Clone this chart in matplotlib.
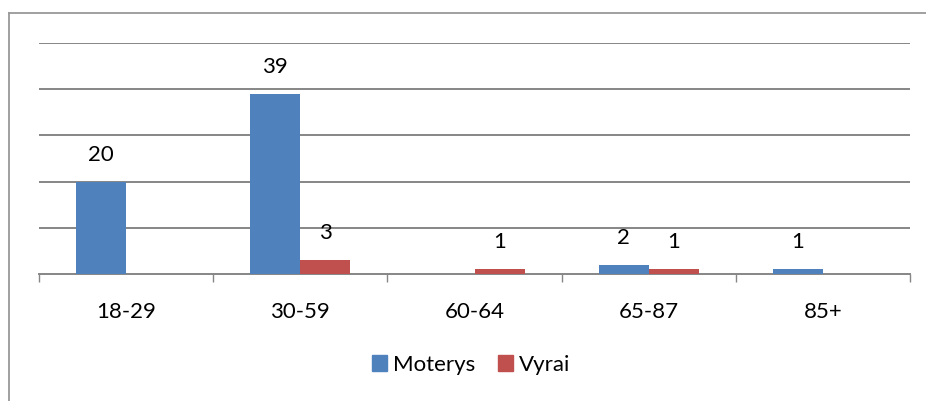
import matplotlib.pyplot as plt
from matplotlib.lines import Line2D
from matplotlib.patches import Patch

plt.rcParams['font.family'] = ['Lato', 'DejaVu Sans']

categories = ["18-29", "30-59", "60-64", "65-87", "85+"]
moterys = [20, 39, 0, 2, 1]
vyrai = [0, 3, 1, 1, 0]
moterys_labels = ["20", "39", "", "2", "1"]
vyrai_labels = ["", "3", "1", "1", ""]

blue = '#4F81BD'
red = '#C0504D'
grid = '#868686'
fs = 16

fig = plt.figure(figsize=(9.26, 4.01), dpi=100)
ax = fig.add_axes([39 / 926, 1 - 274 / 401, (910 - 39) / 926, (274 - 43) / 401])

x = list(range(len(categories)))
w = 50 / 174
ax.bar([i - w / 2 for i in x], moterys, width=w, color=blue, zorder=3)
ax.bar([i + w / 2 for i in x], vyrai, width=w, color=red, zorder=3)

for i, (v, t) in enumerate(zip(moterys, moterys_labels)):
    if t:
        ax.annotate(t, (i - w / 2, v), xytext=(0, 19.5), textcoords='offset points',
                    ha='center', va='center', fontsize=fs)
for i, (v, t) in enumerate(zip(vyrai, vyrai_labels)):
    if t:
        ax.annotate(t, (i + w / 2, v), xytext=(0, 19.5), textcoords='offset points',
                    ha='center', va='center', fontsize=fs)

ax.set_xlim(-0.5, len(categories) - 0.5)
ax.set_ylim(0, 50)
ax.set_yticks([10, 20, 30, 40, 50])
ax.yaxis.grid(True, color=grid, linewidth=1.4, zorder=0)
ax.tick_params(axis='y', length=0, labelleft=False)

ax.set_xticks([i - 0.5 for i in range(len(categories) + 1)])
ax.set_xticklabels([])
ax.tick_params(axis='x', which='major', length=6, width=1.0, color=grid, direction='out')
ax.set_xticks(x, minor=True)
ax.set_xticklabels(categories, minor=True, fontsize=fs)
ax.tick_params(axis='x', which='minor', length=0, pad=20)

for s in ['top', 'right', 'left']:
    ax.spines[s].set_visible(False)
ax.spines['bottom'].set_color(grid)
ax.spines['bottom'].set_linewidth(1.4)

# chart frame (left and top only)
fig.add_artist(Line2D([9 / 926, 9 / 926], [0, 1 - 13 / 401], color='#999999', linewidth=1.3))
fig.add_artist(Line2D([9 / 926, 1], [1 - 13 / 401, 1 - 13 / 401], color='#999999', linewidth=1.3))

handles = [Patch(color=blue, label='Moterys'), Patch(color=red, label='Vyrai')]
fig.legend(handles=handles, loc='center', bbox_to_anchor=(471 / 926, 1 - 365 / 401),
           ncol=2, frameon=False, fontsize=fs, handlelength=0.7, handleheight=0.7,
           handletextpad=0.27, columnspacing=1.0, borderpad=0)

plt.savefig('out.png', dpi=100)
